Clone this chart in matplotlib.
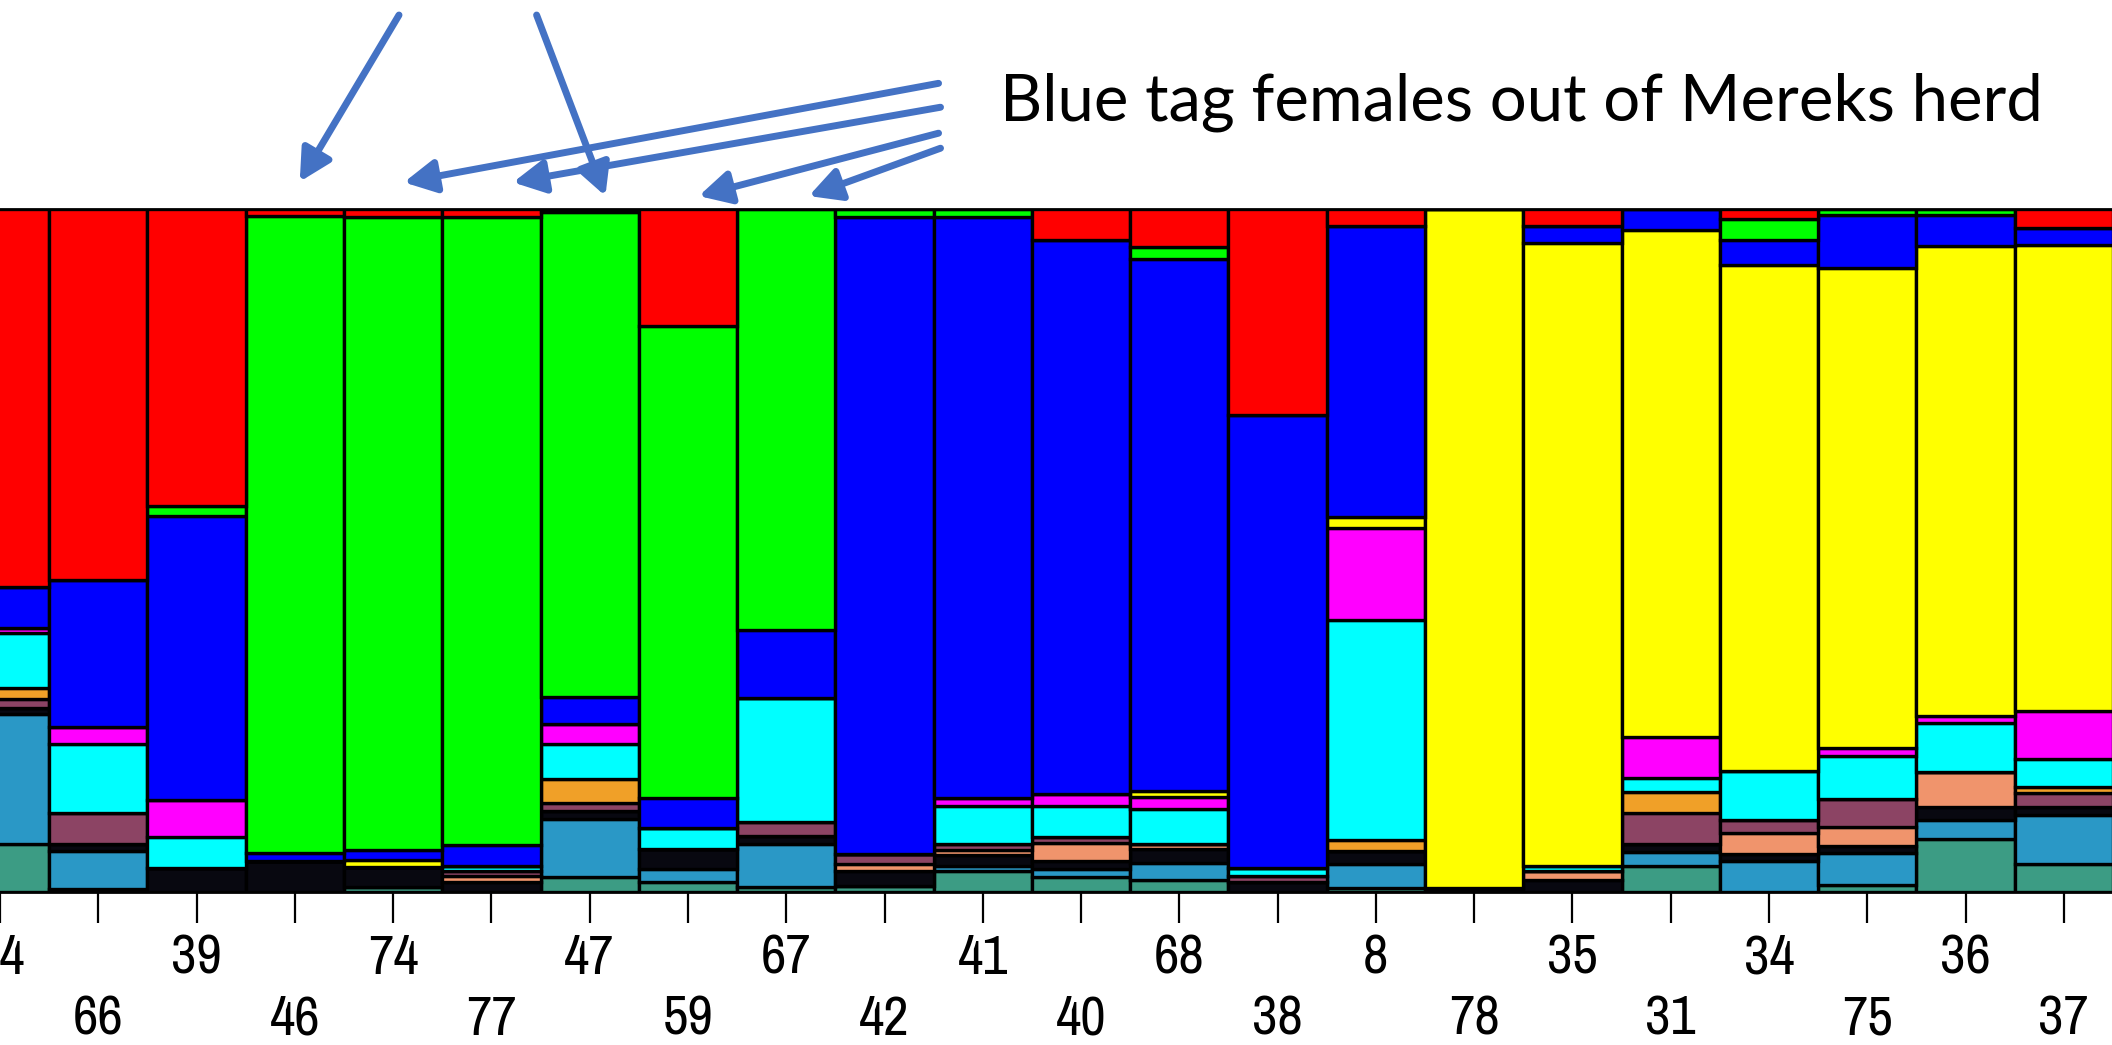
import matplotlib
matplotlib.use("Agg")
from matplotlib import pyplot as plt
from matplotlib import font_manager
import numpy as np

# individuals (left to right); first label is cut off in the reference
labels = ["44", "66", "39", "46", "74", "77", "47", "59", "67", "42", "41",
          "40", "68", "38", "8", "78", "35", "31", "34", "75", "36", "37"]

# membership proportions per cluster, stacked bottom -> top
teal    = [0.070, 0.005, 0, 0, 0.007, 0, 0.022, 0.015, 0.008, 0.008, 0.030,
           0.022, 0.017, 0, 0.005, 0, 0, 0.037, 0, 0.010, 0.075, 0.040]
steel   = [0.190, 0.055, 0, 0, 0, 0, 0.085, 0.018, 0.062, 0, 0.008,
           0.012, 0.025, 0, 0.035, 0, 0, 0.020, 0.045, 0.045, 0.028, 0.070]
dark    = [0.010, 0.010, 0.035, 0.045, 0.030, 0.015, 0.012, 0.030, 0.012, 0.022, 0.015,
           0.012, 0.020, 0.015, 0.018, 0.006, 0.018, 0.012, 0.010, 0.010, 0.018, 0.012]
salmon  = [0, 0, 0, 0, 0, 0.008, 0, 0, 0, 0.010, 0.008,
           0.025, 0.008, 0, 0, 0, 0.012, 0, 0.030, 0.027, 0.050, 0]
maroon  = [0.012, 0.045, 0, 0, 0, 0.007, 0.012, 0, 0.020, 0.015, 0.008,
           0.010, 0, 0.008, 0, 0, 0, 0.045, 0.018, 0.040, 0, 0.020]
orange  = [0.017, 0, 0, 0, 0, 0, 0.035, 0, 0, 0, 0,
           0, 0, 0, 0.015, 0, 0, 0.030, 0, 0, 0, 0.008]
cyan    = [0.080, 0.100, 0.045, 0, 0, 0.008, 0.050, 0.030, 0.180, 0, 0.055,
           0.045, 0.050, 0.012, 0.310, 0, 0.008, 0.020, 0.070, 0.060, 0.070, 0.040]
magenta = [0.008, 0.025, 0.055, 0, 0, 0, 0.030, 0, 0, 0, 0.012,
           0.018, 0.018, 0, 0.130, 0, 0, 0.060, 0, 0.012, 0.010, 0.068]
yellow  = [0, 0, 0, 0, 0.010, 0, 0, 0, 0, 0, 0,
           0, 0.009, 0, 0.015, 0.990, 0.910, 0.730, 0.725, 0.680, 0.670, 0.665]
blue    = [0.060, 0.215, 0.415, 0.012, 0.015, 0.030, 0.040, 0.045, 0.100, 0.915, 0.840,
           0.810, 0.770, 0.660, 0.410, 0, 0.025, 0.030, 0.035, 0.075, 0.045, 0.025]
green   = [0, 0, 0.015, 0.928, 0.925, 0.910, 0.710, 0.690, 0.612, 0.012, 0.012,
           0, 0.018, 0, 0, 0, 0, 0, 0.030, 0.008, 0.008, 0]
red     = [0.553, 0.540, 0.435, 0.010, 0.012, 0.012, 0.004, 0.172, 0, 0, 0,
           0.045, 0.055, 0.300, 0.024, 0, 0.025, 0, 0.015, 0, 0, 0.027]

# the blue-tag females the arrows point at
tagged = [3, 4, 5, 6, 7, 8]

clusters = [teal, steel, dark, salmon, maroon, orange, cyan, magenta,
            yellow, blue, green, red]
colors = ["#3c9c84", "#2a98c6", "#080810", "#f0946c", "#8c4464", "#f0a028",
          "#00ffff", "#ff00ff", "#ffff00", "#0000ff", "#00ff00", "#ff0000"]

data = np.array(clusters, dtype=float)
data = data / data.sum(axis=0)

# narrow font for the sample labels, if one is installed
lab_font = dict(fontsize=34, fontfamily="DejaVu Sans")
for f in font_manager.fontManager.ttflist:
    if "Narrow" in f.name or "Condensed" in f.name:
        lab_font = dict(fontsize=40, fontfamily=f.name)
        break
    if f.name == "DejaVu Sans" and str(f.stretch) in ("condensed", "semi-condensed"):
        lab_font = dict(fontsize=38, fontfamily="DejaVu Sans", fontstretch="condensed")

fig = plt.figure(figsize=(21.12, 10.45), dpi=100)
ax = fig.add_axes([0.0, 0.1464, 1.0, 0.6536])

x = np.arange(len(labels))
bottom = np.zeros(len(labels))
for vals, col in zip(data, colors):
    ax.bar(x, vals, width=1.0, bottom=bottom, color=col,
           edgecolor="black", linewidth=2.4)
    bottom += vals

ax.set_xlim(0.064, 21.49)
ax.set_ylim(0, 1)
ax.set_yticks([])
ax.set_xticks(x[::2], labels[::2], **lab_font)
ax.set_xticks(x[1::2], labels[1::2], minor=True, **lab_font)
ax.tick_params(axis="x", which="both", length=22, width=1.6, direction="out")
ax.tick_params(axis="x", which="major", pad=8)
ax.tick_params(axis="x", which="minor", pad=52)
for s in ["left", "right"]:
    ax.spines[s].set_visible(False)
for s in ["top", "bottom"]:
    ax.spines[s].set_linewidth(2)

# arrows from the caption down to the tagged bars
starts = [(4.06, 1.284), (9.55, 1.184), (9.57, 1.149),
          (5.46, 1.284), (9.55, 1.111), (9.57, 1.089)]
tips_dx = [0.05, 0.11, 0.22, 0.16, 0.11, 0.23]
tips_y = [1.040, 1.039, 1.039, 1.019, 1.019, 1.019]
for i, (sx, sy), dx, ty in zip(tagged, starts, tips_dx, tips_y):
    ax.annotate("", xy=(i + dx, ty), xytext=(sx, sy),
                arrowprops=dict(arrowstyle="-|>,head_length=0.95,head_width=0.5",
                                color="#4472c4", lw=5, mutation_scale=20,
                                shrinkA=0, shrinkB=0),
                annotation_clip=False)

fig.text(1000 / 2112, 1 - 121 / 1045, "Blue tag females out of Mereks herd",
         fontsize=47, fontfamily="Lato", va="baseline", ha="left", color="black")

fig.savefig("out.png", dpi=100)
